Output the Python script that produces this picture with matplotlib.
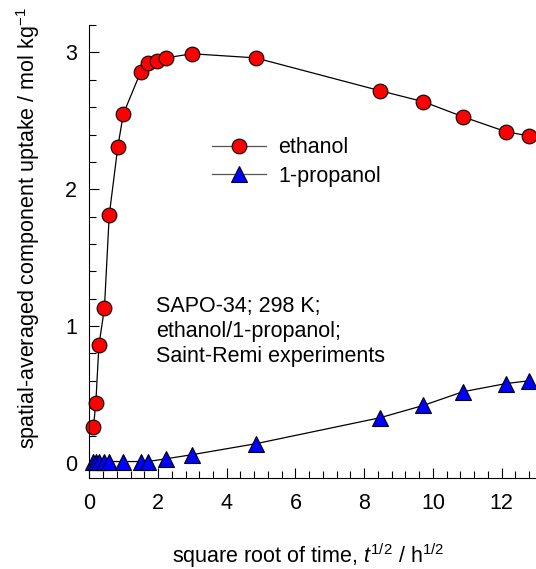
"""Ethanol / 1-propanol uptake in SAPO-34 at 298 K vs square root of time."""
import matplotlib
matplotlib.use("Agg")
import matplotlib.pyplot as plt
from matplotlib.ticker import MultipleLocator

# data
ethanol_x = [0.12, 0.19, 0.28, 0.44, 0.58, 0.83, 0.99, 1.50, 1.70, 1.96, 2.23,
             2.99, 4.84, 8.46, 9.72, 10.87, 12.13, 12.79]
ethanol_y = [0.26, 0.44, 0.86, 1.13, 1.81, 2.31, 2.55, 2.86, 2.92, 2.94, 2.96,
             2.99, 2.96, 2.72, 2.64, 2.53, 2.42, 2.39]
propanol_x = [0.12, 0.19, 0.28, 0.44, 0.58, 0.99, 1.50, 1.70, 2.23, 2.99,
              4.84, 8.46, 9.72, 10.87, 12.13, 12.79]
propanol_y = [0.01, 0.01, 0.01, 0.01, 0.01, 0.01, 0.01, 0.01, 0.03, 0.06,
              0.14, 0.33, 0.42, 0.52, 0.58, 0.60]
note = "SAPO-34; 298 K;\nethanol/1-propanol;\nSaint-Remi experiments"

FS = 15.5


def main() -> None:
    plt.rcParams["font.family"] = ["Liberation Sans", "DejaVu Sans"]
    plt.rcParams["mathtext.fontset"] = "custom"
    plt.rcParams["mathtext.rm"] = "Liberation Sans"
    plt.rcParams["mathtext.it"] = "Liberation Sans:italic"

    fig = plt.figure(figsize=(5.36, 5.69), dpi=100)
    ax = fig.add_axes([0.1666, 0.16, 0.8334, 0.796])

    ax.plot(ethanol_x, ethanol_y, "-o", color="black", lw=0.9,
            mfc="red", mec="black", mew=0.8, ms=10.6, label="ethanol", clip_on=False)
    ax.plot(propanol_x, propanol_y, "-^", color="black", lw=0.9,
            mfc="blue", mec="black", mew=0.8, ms=11.5, label="1-propanol", clip_on=False)

    ax.set_xlim(0, 13)
    ax.set_ylim(-0.11, 3.2)
    ax.xaxis.set_major_locator(MultipleLocator(2))
    ax.xaxis.set_minor_locator(MultipleLocator(0.4))
    ax.yaxis.set_major_locator(MultipleLocator(1))
    ax.yaxis.set_minor_locator(MultipleLocator(0.2))
    ax.tick_params(which="both", direction="in", labelsize=FS, width=0.8)
    ax.tick_params(which="major", length=7)
    ax.tick_params(which="minor", length=5)
    ax.tick_params(axis="x", pad=11)
    ax.tick_params(axis="y", pad=9)
    for side in ("top", "right"):
        ax.spines[side].set_visible(False)
    for side in ("left", "bottom"):
        ax.spines[side].set_linewidth(0.8)

    ax.set_xlabel(r"square root of time, $\mathit{t}^{1/2}$ / h$^{1/2}$", fontsize=FS)
    ax.xaxis.set_label_coords(0.49, -0.139)
    ax.set_ylabel(r"spatial-averaged component uptake / mol kg$^{-1}$", fontsize=FS)
    ax.yaxis.set_label_coords(-0.106, 0.552)

    ax.text(0.149, 0.323, note, transform=ax.transAxes, fontsize=FS,
            ha="left", va="center", linespacing=1.25)

    leg = ax.legend(loc="center left", bbox_to_anchor=(0.274, 0.698), frameon=False,
                    fontsize=FS, borderpad=0, borderaxespad=0, handlelength=2.5,
                    handletextpad=0.6, labelspacing=0.35)
    for line in leg.get_lines():
        line.set_color("#555555")

    fig.savefig("out.png", dpi=100)


if __name__ == "__main__":
    main()
